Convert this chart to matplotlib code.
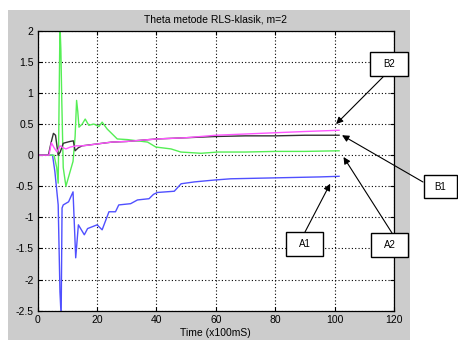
import matplotlib.pyplot as plt
from matplotlib.patches import Rectangle

plt.rcParams['font.family'] = ['Liberation Sans', 'DejaVu Sans']

# parameter estimates
t_blue = [0, 5, 5.8, 6.9, 7.5, 7.9, 8.2, 8.6, 10.4, 11.9, 12.8, 13.7, 15.7, 16.8, 20, 21.7, 24, 26.2,
          27.3, 31.3, 33.6, 37.5, 39, 40.3, 46, 48.3, 52.8, 59.5, 65, 75, 85, 95, 101.5]
a1 = [0, 0, -0.27, -0.8, -2.2, -2.6, -0.85, -0.8, -0.75, -0.59, -1.65, -1.12, -1.28, -1.18, -1.12, -1.2,
      -0.91, -0.91, -0.8, -0.78, -0.72, -0.7, -0.63, -0.6, -0.58, -0.46, -0.43, -0.4, -0.38, -0.37,
      -0.36, -0.35, -0.34]

t_green = [0, 5.5, 6.4, 6.9, 7.5, 7.8, 8.1, 8.6, 9.5, 11.9, 12.6, 13.1, 13.5, 13.9, 15, 16, 17.2, 18.9,
           20.6, 21.7, 23.4, 26.8, 30.2, 37, 39.8, 44.9, 48.2, 55, 60.7, 70, 80, 90, 101.5]
a2 = [0, 0, -0.2, -0.45, 2.1, 1.7, 0.9, -0.2, -0.5, -0.1, 0.3, 0.88, 0.7, 0.45, 0.5, 0.58, 0.48, 0.5,
      0.46, 0.53, 0.42, 0.26, 0.25, 0.21, 0.13, 0.1, 0.05, 0.03, 0.05, 0.05, 0.06, 0.06, 0.07]

t_black = [0, 3.6, 4.5, 5.3, 6.0, 6.9, 7.6, 8.6, 9.3, 10.9, 12.0, 12.6, 13.7, 15, 20, 25, 30, 35, 40,
           50, 60, 70, 80, 90, 101.5]
b1 = [0, 0, 0.2, 0.35, 0.32, 0.0, 0.05, 0.19, 0.2, 0.22, 0.23, 0.07, 0.12, 0.15, 0.18, 0.21, 0.22,
      0.24, 0.26, 0.28, 0.3, 0.31, 0.31, 0.32, 0.32]

t_mag = [0, 3.8, 4.6, 5.5, 6.5, 7.5, 8.5, 9.5, 11, 13, 15, 17, 20, 25, 30, 35, 40, 45, 50, 55, 60, 65,
         70, 80, 90, 101.5]
b2 = [0, 0, 0.2, 0.12, 0.05, 0.15, 0.12, 0.1, 0.13, 0.15, 0.15, 0.16, 0.18, 0.21, 0.22, 0.24, 0.26,
      0.27, 0.28, 0.3, 0.32, 0.33, 0.34, 0.36, 0.38, 0.40]

labels = ['B2', 'B1', 'A2', 'A1']
tips = [(100.5, 0.5), (102.5, 0.32), (103, -0.03), (98.5, -0.46)]
# boxes in pixels from top-left: x0, y0, w, h ; arrow start
boxes = [(370, 52, 38, 24), (424, 175, 33, 23), (371, 233, 37, 24), (286, 232, 37, 24)]
starts = [(383, 77), (423, 182), (392, 233), (305, 232)]

W, H = 458, 340
fig = plt.figure(figsize=(W / 100, H / 100), dpi=100)
fig.patch.set_facecolor('white')
fig.add_artist(Rectangle((8 / W, 0), 402 / W, 330 / H, transform=fig.transFigure,
                         fc='#cccccc', ec='none', zorder=0))

ax = fig.add_axes([37.7 / W, 29.3 / H, 356.3 / W, 280 / H])
ax.set_facecolor('white')
ax.plot(t_blue, a1, color='#5050ff', lw=1.0)
ax.plot(t_green, a2, color='#55ee55', lw=1.0)
ax.plot(t_black, b1, color='#333333', lw=1.0)
ax.plot(t_mag, b2, color='#ff55ff', lw=1.0)

ax.set_xlim(0, 120)
ax.set_ylim(-2.5, 2)
ax.set_xticks(range(0, 121, 20))
ax.set_yticks([-2.5, -2, -1.5, -1, -0.5, 0, 0.5, 1, 1.5, 2])
ax.set_yticklabels(['-2.5', '-2', '-1.5', '-1', '-0.5', '0', '0.5', '1', '1.5', '2'])
ax.tick_params(direction='in', length=3, labelsize=7.5, top=True, right=True, pad=3)
ax.grid(True, color='black', linestyle=(0, (1, 2)), lw=0.8)
for s in ax.spines.values():
    s.set_linewidth(0.9)
ax.set_title('Theta metode RLS-klasik, m=2', fontsize=7.5, pad=6)
ax.set_xlabel('Time (x100mS)', fontsize=7.5, labelpad=2)

for lab, tip, box, st in zip(labels, tips, boxes, starts):
    x0, y0, w, h = box
    fig.add_artist(Rectangle((x0 / W, 1 - (y0 + h) / H), w / W, h / H, transform=fig.transFigure,
                             fc='white', ec='black', lw=1.0, zorder=5))
    fig.text((x0 + w / 2) / W, 1 - (y0 + h / 2) / H, lab, ha='center', va='center',
             fontsize=7, zorder=6)
    ax.annotate('', xy=tip, xycoords='data', xytext=(st[0] / W, 1 - st[1] / H),
                textcoords='figure fraction', annotation_clip=False,
                arrowprops=dict(arrowstyle='-|>', mutation_scale=10, lw=0.8, color='black',
                                shrinkA=0, shrinkB=0))

fig.savefig('out.png', dpi=100)
